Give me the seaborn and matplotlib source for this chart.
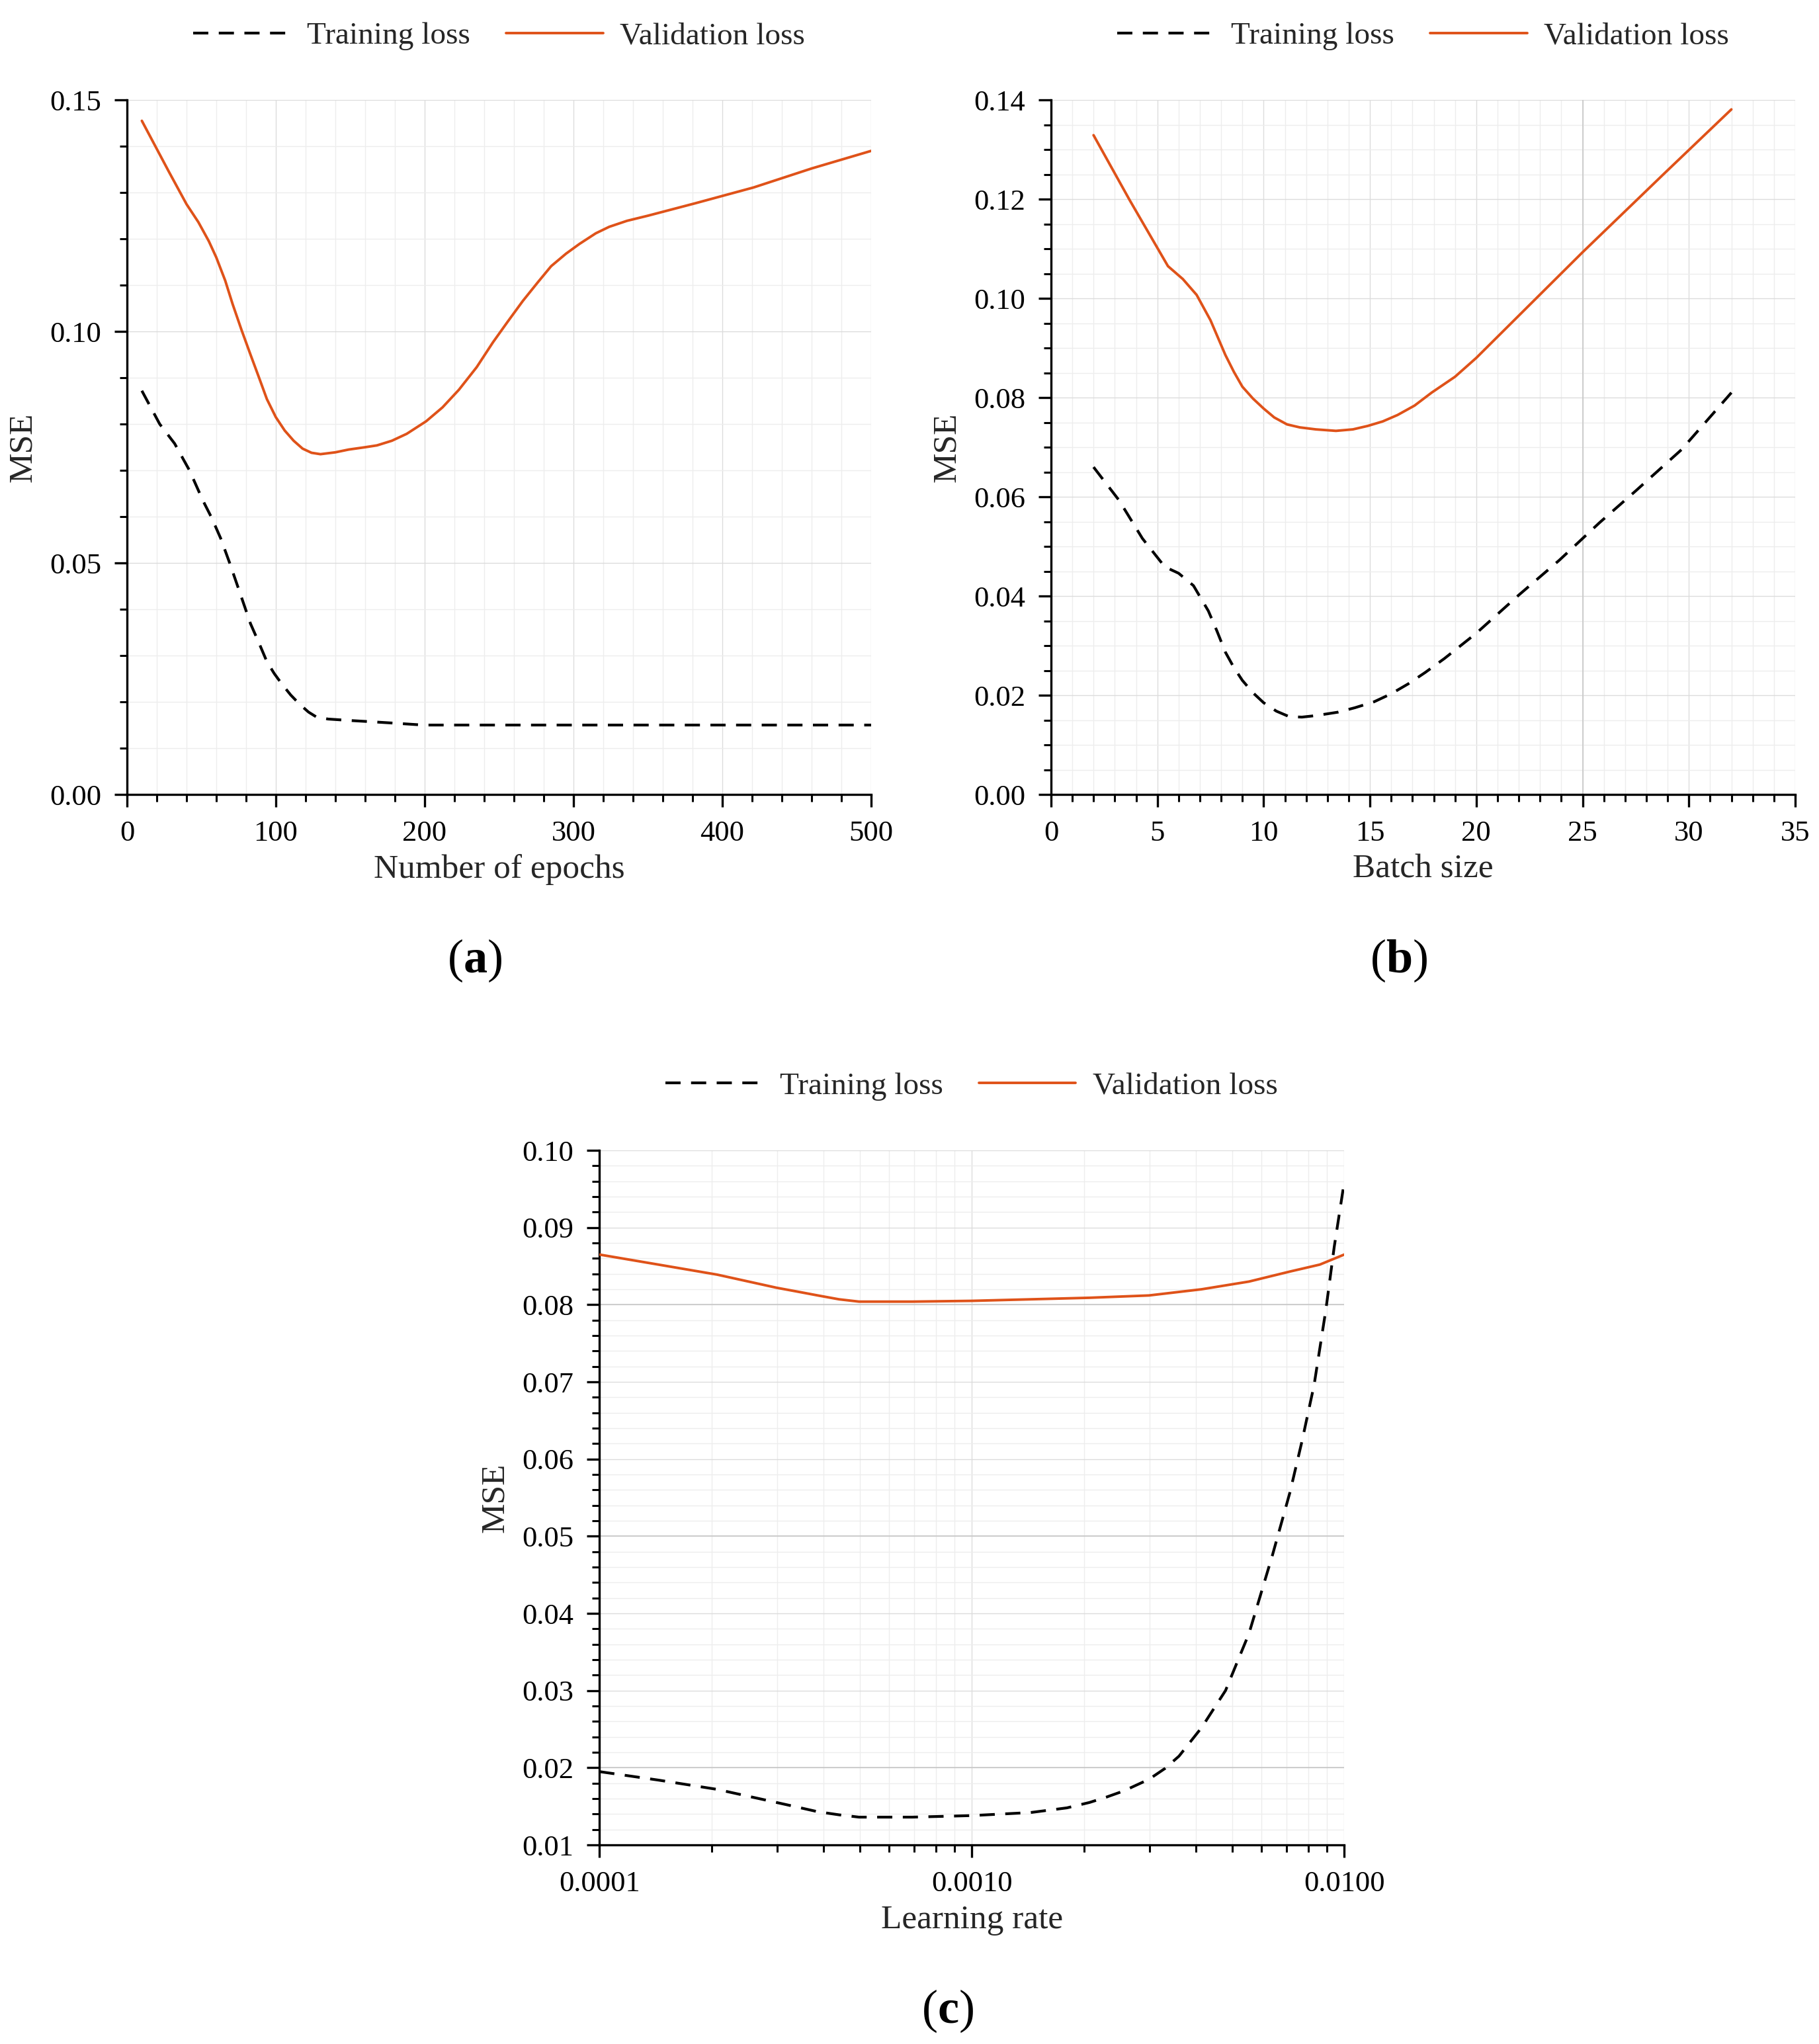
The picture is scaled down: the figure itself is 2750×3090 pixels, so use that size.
import numpy as np
import pandas as pd
import matplotlib
matplotlib.use("Agg")
import matplotlib.pyplot as plt
from matplotlib.ticker import MultipleLocator, FormatStrFormatter, LogLocator
import seaborn as sns

# --- data ---
epochs_train = [10, 22, 32, 42, 51, 57, 63, 69, 75, 83, 89, 94, 99, 104, 110, 116, 122, 127, 135,
                149, 165, 180, 199, 250, 300, 350, 400, 450, 500]
loss_train_a = [0.0872, 0.0800, 0.0758, 0.0700, 0.0635, 0.0597, 0.0553, 0.0500, 0.0444, 0.0369,
                0.0325, 0.0287, 0.0261, 0.0239, 0.0215, 0.0195, 0.0178, 0.0168, 0.0163,
                0.0160, 0.0157, 0.0154, 0.0150, 0.0150, 0.0150, 0.0150, 0.0150, 0.0150, 0.0150]
epochs_val = [10, 28, 40, 48, 55, 60, 66, 71, 77, 83, 89, 94, 100, 106, 112, 118, 124, 130, 140,
              149, 160, 168, 178, 188, 201, 212, 223, 235, 246, 256, 266, 276, 285, 295, 304,
              315, 324, 336, 350, 382, 421, 460, 500]
loss_val_a = [0.1455, 0.1346, 0.1275, 0.1236, 0.1195, 0.1160, 0.1110, 0.1059, 0.1003, 0.0950,
              0.0898, 0.0854, 0.0815, 0.0786, 0.0764, 0.0747, 0.0738, 0.0735, 0.0739,
              0.0745, 0.0750, 0.0754, 0.0764, 0.0779, 0.0806, 0.0836, 0.0874, 0.0923, 0.0977,
              0.1022, 0.1066, 0.1106, 0.1141, 0.1168, 0.1189, 0.1212, 0.1226, 0.1239, 0.1250,
              0.1277, 0.1311, 0.1352, 0.1390]

batch_val = [2.0, 3.7, 5.5, 6.2, 6.85, 7.5, 8.2, 8.6, 9.0, 9.5, 10.0, 10.5, 11.1, 11.7, 12.45,
             13.4, 14.2, 14.9, 15.6, 16.3, 17.1, 17.9, 19.0, 20.0, 25.0, 28.8, 32.0]
loss_val_b = [0.1329, 0.1198, 0.1065, 0.1039, 0.1007, 0.0956, 0.0886, 0.0852, 0.0822, 0.0798,
              0.0778, 0.0760, 0.0746, 0.0740, 0.0736, 0.0733, 0.0736, 0.0743, 0.0752, 0.0765,
              0.0784, 0.0810, 0.0842, 0.0880, 0.1093, 0.1250, 0.1381]
batch_train = [2.0, 3.2, 4.3, 5.35, 6.0, 6.7, 7.4, 7.8, 8.2, 8.6, 9.0, 9.5, 10.0, 10.6, 11.2,
               11.8, 12.45, 13.5, 14.3, 15.2, 16.0, 16.8, 17.6, 18.5, 20.0, 22.0, 23.9, 25.8,
               27.5, 29.65, 32.0]
loss_train_b = [0.0660, 0.0593, 0.0516, 0.0459, 0.0446, 0.0421, 0.0370, 0.0330, 0.0287, 0.0256,
                0.0230, 0.0205, 0.0185, 0.0168, 0.0157, 0.0156, 0.0159, 0.0166, 0.0175, 0.0187,
                0.0203, 0.0223, 0.0246, 0.0274, 0.0325, 0.0402, 0.0472, 0.0548,
                0.0612, 0.0695, 0.0810]

lr_val = [1e-4, 1.44e-4, 2.07e-4, 2.99e-4, 3.4e-4, 3.86e-4, 4.4e-4, 4.98e-4, 6.92e-4, 1e-3,
          1.44e-3, 2.07e-3, 2.99e-3, 4.14e-3, 5.55e-3, 7.15e-3, 8.6e-3, 1e-2]
loss_val_c = [0.0865, 0.0852, 0.0839, 0.0822, 0.0817, 0.0812, 0.0807, 0.0804, 0.0804, 0.0805,
              0.0807, 0.0809, 0.0812, 0.0820, 0.0830, 0.0843, 0.0852, 0.0865]
lr_train = [1e-4, 1.44e-4, 2.07e-4, 2.99e-4, 3.4e-4, 3.86e-4, 4.4e-4, 4.98e-4, 6.92e-4, 1e-3,
            1.44e-3, 1.8e-3, 2.07e-3, 2.3e-3, 2.56e-3, 2.99e-3, 3.3e-3, 3.6e-3, 4.14e-3, 4.8e-3,
            5.55e-3, 6.42e-3, 7.15e-3, 7.7e-3, 8.3e-3, 8.93e-3, 9.4e-3, 1e-2]
loss_train_c = [0.0195, 0.0184, 0.0172, 0.0155, 0.0149, 0.0143, 0.0139, 0.0136, 0.0136, 0.0138,
                0.0142, 0.0148, 0.0155, 0.0162, 0.0170, 0.0185, 0.0199, 0.0215, 0.0252, 0.0300,
                0.0374, 0.0476, 0.0557, 0.0623, 0.0696, 0.0794, 0.0875, 0.0959]

sns.set_theme(style="white")
plt.rcParams["font.family"] = ["Liberation Serif", "DejaVu Serif"]
plt.rcParams["mathtext.fontset"] = "custom"
plt.rcParams["mathtext.rm"] = "Liberation Serif"
plt.rcParams["mathtext.bf"] = "Liberation Serif:bold"

ORANGE = "#DF5219"
TICK_FS = 32
LABEL_FS = 37

fig = plt.figure(figsize=(27.5, 30.9), dpi=100)
ax_a = fig.add_axes([0.0698, 0.6113, 0.4091, 0.3398])
ax_b = fig.add_axes([0.5778, 0.6113, 0.4091, 0.3398])
ax_c = fig.add_axes([0.3295, 0.0974, 0.4095, 0.3398])


def draw(ax, xt, yt, xv, yv):
    sns.lineplot(x=xt, y=yt, ax=ax, color="black", lw=3.0, label="Training loss",
                 linestyle=(0, (5.5, 3.8)), zorder=3)
    sns.lineplot(x=xv, y=yv, ax=ax, color=ORANGE, lw=2.8, label="Validation loss", zorder=3)
    ax.grid(which="major", color="#dcdcdc", lw=1.0)
    ax.grid(which="minor", color="#ededed", lw=1.0)
    ax.set_axisbelow(True)
    for s in ["top", "right"]:
        ax.spines[s].set_visible(False)
    for s in ["left", "bottom"]:
        ax.spines[s].set_color("black")
        ax.spines[s].set_linewidth(2.4)
    ax.tick_params(which="major", direction="out", length=14, width=2.4, color="black",
                   labelsize=TICK_FS, pad=14, bottom=True, left=True, labelcolor="black")
    ax.tick_params(which="minor", direction="out", length=8, width=2.2, color="black",
                   bottom=True, left=True)
    ax.set_ylabel("MSE", fontsize=LABEL_FS, labelpad=12)
    leg = ax.legend(loc="center", bbox_to_anchor=(0.5, 1.092), ncol=2, frameon=False,
                    fontsize=34, handlelength=3.1, columnspacing=1.15, handletextpad=0.55)
    return leg


draw(ax_a, epochs_train, loss_train_a, epochs_val, loss_val_a)
ax_a.set_xlim(0, 500)
ax_a.set_ylim(0, 0.15)
ax_a.xaxis.set_major_locator(MultipleLocator(100))
ax_a.xaxis.set_minor_locator(MultipleLocator(20))
ax_a.yaxis.set_major_locator(MultipleLocator(0.05))
ax_a.yaxis.set_minor_locator(MultipleLocator(0.01))
ax_a.yaxis.set_major_formatter(FormatStrFormatter("%.2f"))
ax_a.set_xlabel("Number of epochs", fontsize=LABEL_FS, labelpad=8)

draw(ax_b, batch_train, loss_train_b, batch_val, loss_val_b)
ax_b.set_xlim(0, 35)
ax_b.set_ylim(0, 0.14)
ax_b.xaxis.set_major_locator(MultipleLocator(5))
ax_b.xaxis.set_minor_locator(MultipleLocator(1))
ax_b.yaxis.set_major_locator(MultipleLocator(0.02))
ax_b.yaxis.set_minor_locator(MultipleLocator(0.005))
ax_b.yaxis.set_major_formatter(FormatStrFormatter("%.2f"))
ax_b.axvline(25, color="#c8c8c8", lw=1.2, zorder=1)
ax_b.set_xlabel("Batch size", fontsize=LABEL_FS, labelpad=8)

draw(ax_c, lr_train, loss_train_c, lr_val, loss_val_c)
ax_c.set_xscale("log")
ax_c.set_xlim(1e-4, 1e-2)
ax_c.set_ylim(0.01, 0.10)
ax_c.xaxis.set_major_locator(LogLocator(base=10))
ax_c.xaxis.set_minor_locator(LogLocator(base=10, subs=np.arange(2, 10)))
ax_c.xaxis.set_major_formatter(FormatStrFormatter("%.4f"))
ax_c.xaxis.set_minor_formatter(plt.NullFormatter())
ax_c.yaxis.set_major_locator(MultipleLocator(0.01))
ax_c.yaxis.set_minor_locator(MultipleLocator(0.002))
ax_c.yaxis.set_major_formatter(FormatStrFormatter("%.2f"))
for yl in [0.02, 0.05, 0.08]:
    ax_c.axhline(yl, color="#c8c8c8", lw=1.2, zorder=1)
ax_c.set_xlabel("Learning rate", fontsize=LABEL_FS, labelpad=8)

fig.text(0.261, 0.530, r"($\mathbf{a}$)", fontsize=52, ha="center", va="center", color="black")
fig.text(0.769, 0.530, r"($\mathbf{b}$)", fontsize=52, ha="center", va="center", color="black")
fig.text(0.521, 0.016, r"($\mathbf{c}$)", fontsize=52, ha="center", va="center", color="black")

fig.savefig("out.png", dpi=100, facecolor="white")
